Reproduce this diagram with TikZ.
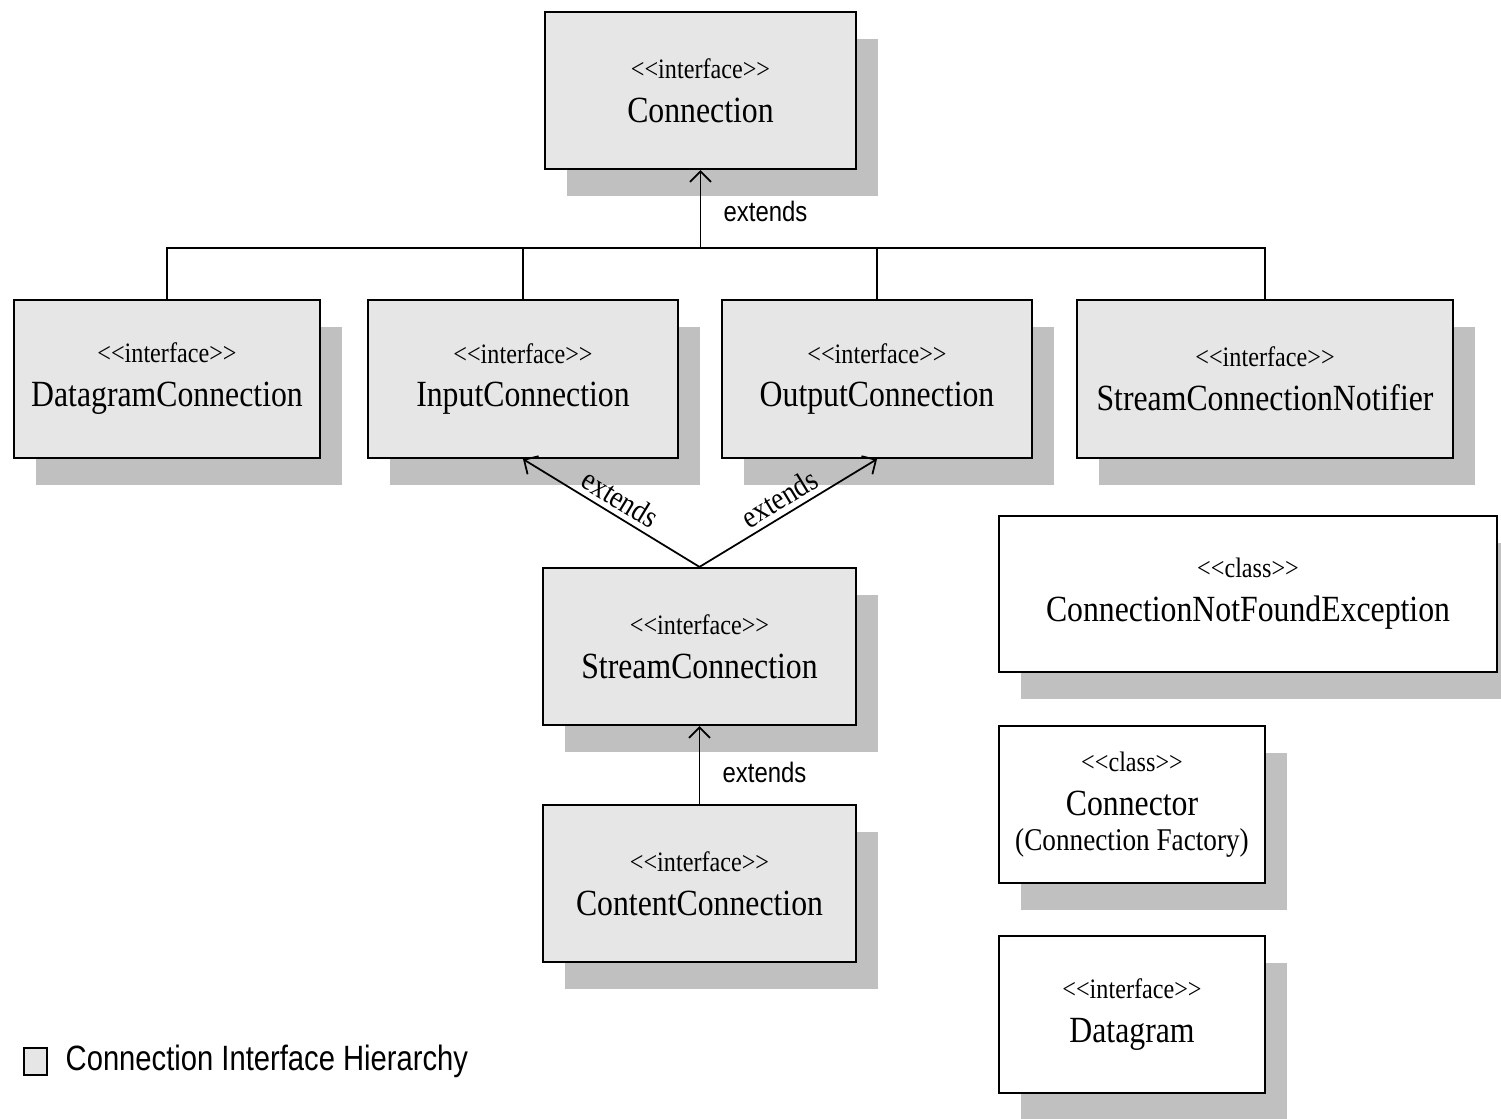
\documentclass[tikz,border=0pt]{standalone}
\usepackage{fontspec}
\setmainfont{Liberation Serif}[FakeStretch=0.86]
\newfontfamily\labelsans{Liberation Sans}[FakeStretch=0.85]
\newfontfamily\legendsans{Liberation Sans}[FakeStretch=0.83]
\usetikzlibrary{arrows.meta,shadows}

\definecolor{boxgray}{RGB}{230,230,230}
\definecolor{shadowgray}{RGB}{192,192,192}

\newcommand\stereo[1]{{\fontsize{8}{9}\selectfont <{}<#1>{}>}}

\tikzset{
  umlbox/.style={draw=black, line width=0.6pt, align=center, inner sep=2pt,
    minimum height=1.57cm,
    font=\fontsize{10.5}{12.5}\selectfont,
    drop shadow={shadow xshift=0.22cm, shadow yshift=-0.27cm,
                 fill=shadowgray, opacity=1}},
  iface/.style={umlbox, fill=boxgray},
  cls/.style={umlbox, fill=white},
  link/.style={line width=0.5pt},
  extarrow/.style={link, -{Straight Barb[length=3pt,width=6pt]}},
  extlabel/.style={font=\labelsans\fontsize{8}{9}\selectfont},
  slantlabel/.style={font=\fontsize{9}{10}\selectfont, inner sep=1.5pt},
}

\begin{document}
\begin{tikzpicture}[x=0.01cm, y=-0.01cm]
  \useasboundingbox (0,0) rectangle (1501,1118);

  % interface hierarchy
  \node[iface, minimum width=3.11cm] (conn) at (700.5,90.5)
    {\stereo{interface}\\Connection};
  \node[iface, minimum width=3.06cm, minimum height=1.58cm] (dgc) at (167,379)
    {\stereo{interface}\\DatagramConnection};
  \node[iface, minimum width=3.10cm, minimum height=1.58cm] (inc) at (523,379)
    {\stereo{interface}\\InputConnection};
  \node[iface, minimum width=3.10cm, minimum height=1.58cm] (outc) at (877,379)
    {\stereo{interface}\\OutputConnection};
  \node[iface, minimum width=3.76cm, minimum height=1.58cm] (scn) at (1265,379)
    {\stereo{interface}\\StreamConnectionNotifier};
  \node[iface, minimum width=3.13cm] (sc) at (699.5,646.5)
    {\stereo{interface}\\StreamConnection};
  \node[iface, minimum width=3.13cm] (cc) at (699.5,883.5)
    {\stereo{interface}\\ContentConnection};

  % other classes and interfaces
  \node[cls, minimum width=4.98cm, minimum height=1.56cm] (cnfe) at (1248,594)
    {\stereo{class}\\ConnectionNotFoundException};
  \node[cls, minimum width=2.66cm] (ctor) at (1132,804.5)
    {\stereo{class}\\Connector\\[-2.5pt]{\fontsize{9}{10}\selectfont (Connection Factory)}};
  \node[cls, minimum width=2.66cm] (dg) at (1132,1014.5)
    {\stereo{interface}\\Datagram};

  % extends: bus to Connection
  \coordinate (bus) at (conn.south |- {(0,248)});
  \draw[extarrow] (bus) -- (conn.south)
    node[pos=0.47, right, xshift=3pt, extlabel] {extends};
  \draw[link] (dgc.north) -- (dgc.north |- bus) -- (scn.north |- bus) -- (scn.north);
  \draw[link] (inc.north) -- (inc.north |- bus);
  \draw[link] (outc.north) -- (outc.north |- bus);

  % extends: StreamConnection
  \draw[extarrow] (sc.north) -- (inc.south)
    node[midway, sloped, above, slantlabel] {extends};
  \draw[extarrow] (sc.north) -- (outc.south)
    node[midway, sloped, above, slantlabel] {extends};

  % extends: ContentConnection
  \draw[extarrow] (cc.north) -- (sc.south)
    node[pos=0.4, right, xshift=3pt, extlabel] {extends};

  % legend
  \node[draw=black, fill=boxgray, line width=0.6pt, inner sep=0pt,
        minimum width=0.23cm, minimum height=0.27cm] (legbox) at (35.5,1061.5) {};
  \node[anchor=west, inner sep=0pt, font=\legendsans\fontsize{10}{12}\selectfont]
    (legtext) at (65,1061) {Connection Interface Hierarchy};
\end{tikzpicture}
\end{document}
